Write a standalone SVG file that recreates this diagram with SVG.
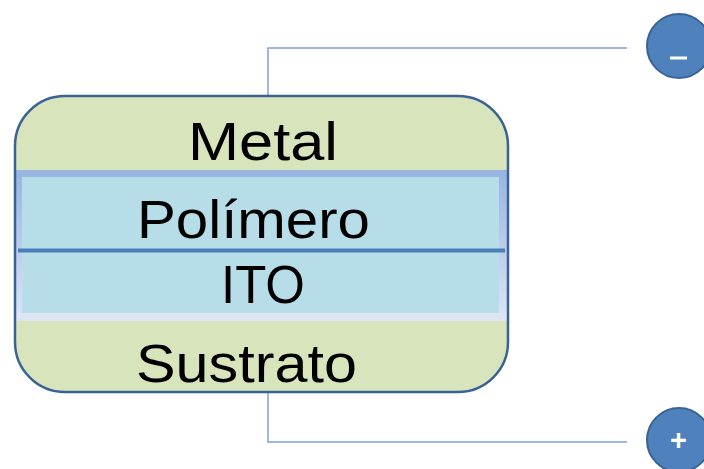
<svg xmlns="http://www.w3.org/2000/svg" width="704" height="469" viewBox="0 0 704 469">
<defs>
<linearGradient id="sideGrad" x1="0" y1="0" x2="0" y2="1">
<stop offset="0" stop-color="#98B4E0"/>
<stop offset="1" stop-color="#DCE4F5"/>
</linearGradient>
<clipPath id="boxClip"><rect x="15" y="96" width="493" height="296" rx="50" ry="50"/></clipPath>
</defs>
<style>
.conn{fill:none;stroke:#7EA3D8;stroke-width:1.5}
.lbl{font-family:"Liberation Sans",Arial,sans-serif;font-size:53px;fill:#000}
.term{fill:#4F81BD;stroke:#3A6395;stroke-width:2}
.sign{font-family:"Liberation Sans",sans-serif;fill:#fff;text-anchor:middle;font-weight:bold}
</style>
<g id="connectors">
<polyline class="conn" points="268,96 268,48 627,48"/>
<polyline class="conn" points="268,392 268,442 627,442"/>
</g>
<g id="device">
<rect x="15" y="96" width="493" height="296" rx="50" ry="50" fill="#D8E4BC"/>
<g clip-path="url(#boxClip)">
<rect x="14" y="170" width="495" height="151" fill="url(#sideGrad)"/>
<rect x="22" y="177" width="477" height="136" fill="#B7DEE8"/>
<rect x="14" y="313" width="495" height="8" fill="#DDE5F5"/>
<rect x="14" y="170" width="495" height="7" fill="#98B4E0"/>
<rect x="18" y="248.5" width="487" height="4" fill="#4A7EBB"/>
</g>
<rect x="15" y="96" width="493" height="296" rx="50" ry="50" fill="none" stroke="#3A6395" stroke-width="2.5"/>
</g>
<g id="metal"><text class="lbl" x="188" y="160" textLength="150" lengthAdjust="spacingAndGlyphs">Metal</text></g>
<g id="polimero"><text class="lbl" x="137" y="238" textLength="233" lengthAdjust="spacingAndGlyphs">Polímero</text></g>
<g id="ito"><text class="lbl" x="221" y="303" textLength="84" lengthAdjust="spacingAndGlyphs">ITO</text></g>
<g id="sustrato"><text class="lbl" x="136" y="382" textLength="221" lengthAdjust="spacingAndGlyphs">Sustrato</text></g>
<g id="neg">
<circle class="term" cx="679" cy="46" r="32"/>
<rect x="670" y="56.5" width="17" height="3" fill="#fff"/>
</g>
<g id="pos">
<circle class="term" cx="679" cy="440" r="32"/>
<text class="sign" x="678.5" y="449.5" font-size="29">+</text>
</g>
</svg>
